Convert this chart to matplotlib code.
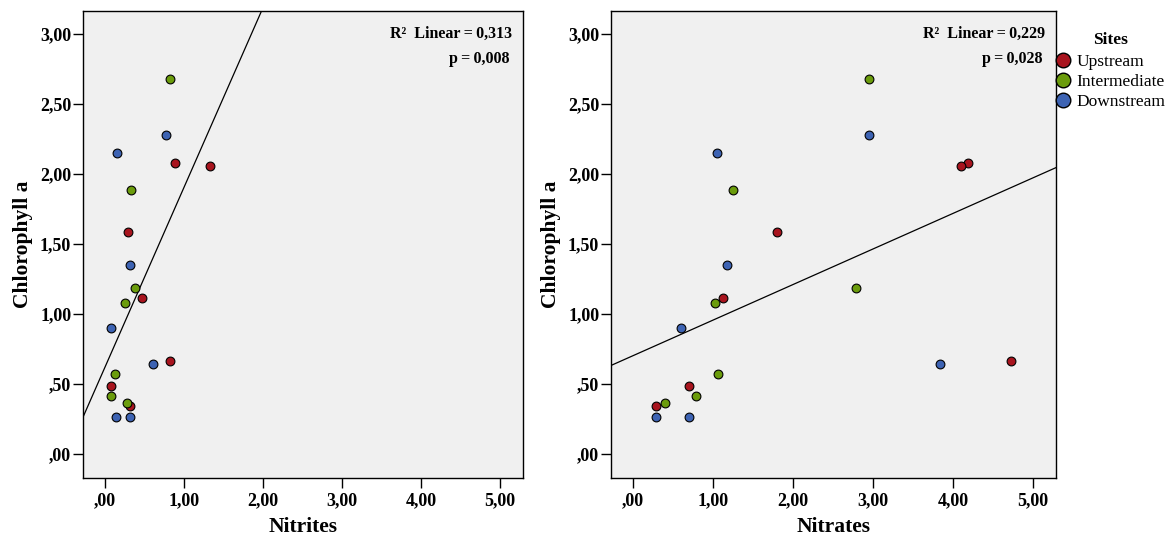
import matplotlib
matplotlib.use("Agg")
import matplotlib.pyplot as plt
from matplotlib.lines import Line2D
import numpy as np

plt.rcParams['font.family'] = ['Liberation Serif', 'DejaVu Serif']

# chlorophyll a values, same order in both panels
chl_up = [2.081, 2.057, 1.583, 1.117, 0.664, 0.483, 0.345]
chl_mid = [2.676, 1.886, 1.186, 1.076, 0.571, 0.414, 0.364]
chl_down = [2.279, 2.148, 1.352, 0.898, 0.643, 0.264, 0.264]

nitrites_up = [0.883, 1.327, 0.292, 0.465, 0.824, 0.076, 0.321]
nitrites_mid = [0.824, 0.334, 0.385, 0.258, 0.131, 0.076, 0.275]
nitrites_down = [0.778, 0.152, 0.321, 0.076, 0.609, 0.136, 0.321]

nitrates_up = [4.195, 4.107, 1.801, 1.131, 4.727, 0.703, 0.282]
nitrates_mid = [2.950, 1.248, 2.792, 1.024, 1.065, 0.794, 0.399]
nitrates_down = [2.950, 1.049, 1.181, 0.599, 3.845, 0.282, 0.703]

sites = ["Upstream", "Intermediate", "Downstream"]
colors = ["#A8141E", "#6B9C0C", "#3D63B3"]

x_ticks = [0, 1, 2, 3, 4, 5]
x_labels = [",00", "1,00", "2,00", "3,00", "4,00", "5,00"]
y_ticks = [0, 0.5, 1, 1.5, 2, 2.5, 3]
y_labels = [",00", ",50", "1,00", "1,50", "2,00", "2,50", "3,00"]

panels = [
    ("Nitrites", [nitrites_up, nitrites_mid, nitrites_down], "0,313", "0,008"),
    ("Nitrates", [nitrates_up, nitrates_mid, nitrates_down], "0,229", "0,028"),
]
chl = [chl_up, chl_mid, chl_down]

fig = plt.figure(figsize=(11.68, 5.41), dpi=100)
positions = [[0.0711, 0.1165, 0.3767, 0.8632], [0.5231, 0.1165, 0.381, 0.8632]]

for pos, (xlabel, xs, r2, p) in zip(positions, panels):
    ax = fig.add_axes(pos)
    ax.set_facecolor("#F0F0F0")
    for xv, yv, c in zip(xs, chl, colors):
        ax.scatter(xv, yv, s=40, color=c, edgecolors="black", linewidths=0.8, zorder=3)

    # linear fit over all points
    allx = np.concatenate(xs)
    ally = np.concatenate(chl)
    m, b = np.polyfit(allx, ally, 1)
    ax.axline((0, b), slope=m, color="black", lw=0.9, zorder=2)

    ax.set_xlim(-0.275, 5.29)
    ax.set_ylim(-0.171, 3.164)
    ax.set_xticks(x_ticks)
    ax.set_xticklabels(x_labels)
    ax.set_yticks(y_ticks)
    ax.set_yticklabels(y_labels)
    ax.tick_params(length=7.5, width=1, labelsize=13, direction="out", pad=1)
    ax.tick_params(axis="x", pad=3)
    for lab in ax.get_xticklabels() + ax.get_yticklabels():
        lab.set_fontweight("bold")
    for sp in ax.spines.values():
        sp.set_linewidth(1)
    ax.set_xlabel(xlabel, fontsize=15.5, fontweight="bold", labelpad=5)
    ax.set_ylabel("Chlorophyll a", fontsize=15.5, fontweight="bold", labelpad=5)

    ax.text(0.976, 0.95, "R²  Linear\u2009=\u2009" + r2, transform=ax.transAxes,
            ha="right", va="center", fontsize=11.5, fontweight="bold")
    ax.text(0.97, 0.897, "p\u2009=\u2009" + p, transform=ax.transAxes,
            ha="right", va="center", fontsize=11.5, fontweight="bold")

fig.text(1110 / 1168, 1 - 40 / 541, "Sites", ha="center", va="center",
         fontsize=12.5, fontweight="bold")
handles = [Line2D([], [], marker="o", ls="", markersize=10.5, markerfacecolor=c,
                  markeredgecolor="black", markeredgewidth=1) for c in colors]
fig.legend(handles, sites, loc="center left", bbox_to_anchor=(0.903, 1 - 82 / 541),
           frameon=False, fontsize=12.5, handletextpad=0.25, handlelength=1.0,
           labelspacing=0.2, borderpad=0, borderaxespad=0)

fig.savefig("out.png", dpi=100)
